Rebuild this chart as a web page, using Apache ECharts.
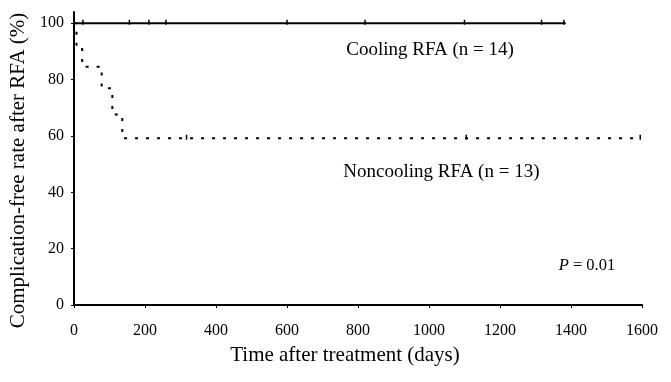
<!DOCTYPE html>
<html>
<head>
<meta charset="utf-8">
<script src="https://cdn.jsdelivr.net/npm/echarts@6/dist/echarts.min.js"></script>
<style>
  html, body { margin: 0; padding: 0; background: #fff; }
  #chart { width: 671px; height: 382px; }
</style>
</head>
<body>
<div id="chart"></div>
<script>
// Kaplan–Meier complication-free curves (days, % complication-free)
const coolingCurve = [[0, 100], [1385, 100]];
const noncoolingCurve = [
  [0, 100], [7, 100], [7, 92.3], [23, 92.3], [23, 84.6],
  [78, 84.6], [78, 76.9], [108, 76.9], [108, 67.6],
  [136, 67.6], [136, 59.2], [1595, 59.2]
];
// censored observations (tick marks)
const coolingCensored = [[25, 100], [156, 100], [211, 100], [259, 100], [600, 100], [820, 100], [1100, 100], [1317, 100], [1380, 100]];
const noncoolingCensored = [[317, 59.2], [1105, 59.2], [1595, 59.2]];

const xTicks = [0, 200, 400, 600, 800, 1000, 1200, 1400, 1600];
const yTicks = [0, 20, 40, 60, 80, 100];

// text annotations placed in data space: [day, percent, text]
const notes = [
  [1003, 90.5, 'Cooling RFA (n = 14)'],
  [1035, 47.2, 'Noncooling RFA (n = 13)'],
  [1445, 13.8, '{i|P} = 0.01']
];

const serif = '"Liberation Serif", "DejaVu Serif", serif';
const ink = '#000';
const chart = echarts.init(document.getElementById('chart'));

chart.setOption({
  animation: false,
  backgroundColor: '#fff',
  grid: { left: 74, right: 29, top: 12, bottom: 77 },
  xAxis: {
    type: 'value', min: 0, max: 1600, interval: 200,
    name: 'Time after treatment (days)',
    nameLocation: 'middle', nameGap: 40,
    nameTextStyle: { fontFamily: serif, fontSize: 21, color: ink, padding: [0, 26, 0, 0] },
    axisLine: { show: true, onZero: false, lineStyle: { color: ink, width: 2 } },
    axisTick: { show: true, length: 3, lineStyle: { color: ink }, customValues: xTicks },
    axisLabel: { fontFamily: serif, fontSize: 16, color: ink, margin: 18, customValues: xTicks, formatter: v => String(v) },
    splitLine: { show: false }
  },
  yAxis: {
    type: 'value', min: 0, max: 104,
    name: 'Complication-free rate after RFA (%)',
    nameLocation: 'middle', nameGap: 42,
    nameTextStyle: { fontFamily: serif, fontSize: 21, color: ink, padding: [0, 24, 0, 0] },
    axisLine: { show: true, lineStyle: { color: ink, width: 2 } },
    axisTick: { show: true, length: 3, lineStyle: { color: ink }, customValues: yTicks },
    axisLabel: { fontFamily: serif, fontSize: 16, color: ink, margin: 10, customValues: yTicks },
    splitLine: { show: false }
  },
  series: [
    {
      name: 'Cooling RFA', type: 'line', data: coolingCurve,
      showSymbol: false, lineStyle: { color: ink, width: 2.2 }, z: 3
    },
    {
      name: 'Noncooling RFA', type: 'line', data: noncoolingCurve,
      showSymbol: false, lineStyle: { color: ink, width: 2, type: [3, 8] }, z: 3
    },
    {
      type: 'scatter', data: coolingCensored, symbol: 'rect',
      symbolSize: [1.5, 5], symbolOffset: [0, -1], itemStyle: { color: ink, opacity: 1 }, z: 4
    },
    {
      type: 'scatter', data: noncoolingCensored, symbol: 'rect',
      symbolSize: [1.5, 5], symbolOffset: [0, -1], itemStyle: { color: ink, opacity: 1 }, z: 4
    },
    {
      type: 'scatter', symbolSize: 0, silent: true,
      itemStyle: { opacity: 1 },
      data: notes.map((n, i) => ({
        value: [n[0], n[1]], name: n[2],
        label: { fontSize: i === 2 ? 16.5 : 19 }
      })),
      label: {
        show: true, position: 'inside', formatter: p => p.name,
        fontFamily: serif, color: ink, opacity: 1,
        rich: { i: { fontFamily: serif, fontSize: 16.5, fontStyle: 'italic', color: ink } }
      }
    }
  ]
});
</script>
</body>
</html>
